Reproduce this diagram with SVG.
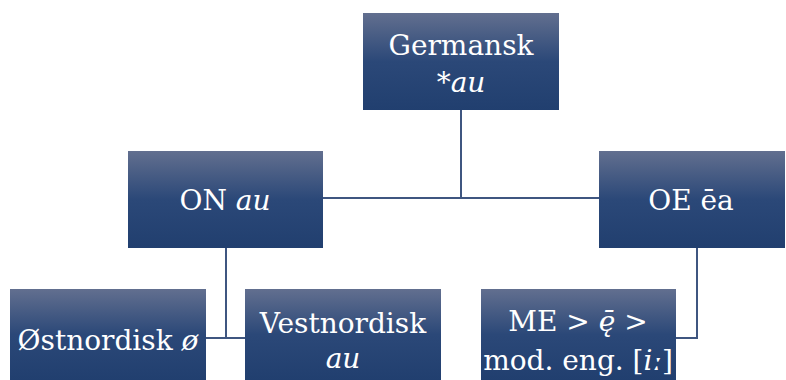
<svg xmlns="http://www.w3.org/2000/svg" width="786" height="380" viewBox="0 0 786 380">
<style>
.box{fill:url(#g);}
.t{font-family:"DejaVu Serif","Liberation Serif",serif;font-size:28px;fill:#ffffff;text-anchor:middle;}
.i{font-style:italic;}
.c{stroke:#3f5680;stroke-width:2;fill:none;}
</style>
<defs>
<linearGradient id="g" x1="0" y1="0" x2="0" y2="1">
<stop offset="0" stop-color="#626f8f"/>
<stop offset="0.5" stop-color="#2b4878"/>
<stop offset="1" stop-color="#213f6f"/>
</linearGradient>
</defs>
<rect width="786" height="380" fill="#ffffff"/>
<g id="connectors">
<path class="c" d="M461 110 V198 M323 198 H599"/>
<path class="c" d="M226 248 V338 M206 338 H245"/>
<path class="c" d="M697 248 V338 H676"/>
</g>
<g id="germansk">
<rect class="box" x="363" y="13" width="196" height="97"/>
<text class="t" x="461" y="55">Germansk</text>
<text class="t" x="461" y="92">*<tspan class="i">au</tspan></text>
</g>
<g id="on">
<rect class="box" x="128" y="151" width="195" height="97"/>
<text class="t" x="225" y="210">ON <tspan class="i">au</tspan></text>
</g>
<g id="oe">
<rect class="box" x="599" y="151" width="186" height="97"/>
<text class="t" x="691" y="210">OE ēa</text>
</g>
<g id="ostnordisk">
<rect class="box" x="10" y="289" width="196" height="91"/>
<text class="t" x="108" y="350">Østnordisk <tspan class="i">ø</tspan></text>
</g>
<g id="vestnordisk">
<rect class="box" x="245" y="289" width="196" height="91"/>
<text class="t" x="343" y="333">Vestnordisk</text>
<text class="t" x="343" y="368"><tspan class="i">au</tspan></text>
</g>
<g id="me">
<rect class="box" x="481" y="289" width="195" height="91"/>
<text class="t" x="578" y="331">ME &gt; <tspan class="i">ę̄</tspan> &gt;</text>
<text class="t" x="578" y="370">mod. eng. [<tspan class="i">iː</tspan>]</text>
</g>
</svg>
